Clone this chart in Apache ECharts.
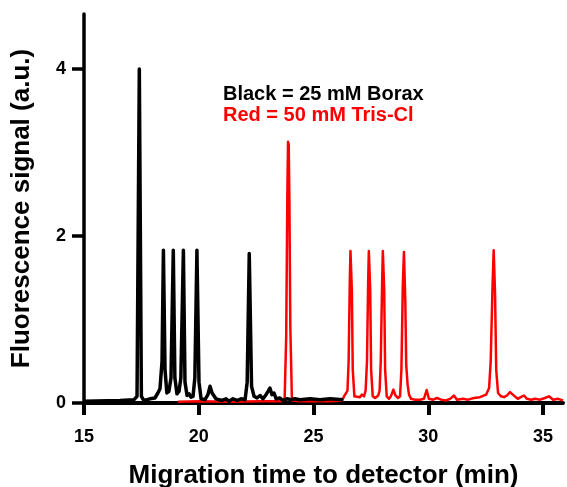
<!DOCTYPE html>
<html>
<head>
<meta charset="utf-8">
<script src="https://cdn.jsdelivr.net/npm/echarts@6/dist/echarts.min.js"></script>
<style>
  html, body { margin: 0; padding: 0; background: #fff; }
  #chart { width: 567px; height: 487px; }
</style>
</head>
<body>
<div id="chart"></div>
<script>
// Electropherogram: fluorescence vs. migration time for two run buffers

const xTicks = [15, 20, 25, 30, 35];
const yTicks = [0, 2, 4];

// 25 mM Borax run
const blackTime = [
  15.00, 16.57, 17.18, 17.31, 17.41, 17.50, 17.61, 17.88, 18.09, 18.22,
  18.31, 18.40, 18.46, 18.53, 18.61, 18.70, 18.79, 18.89, 18.96, 19.05,
  19.14, 19.22, 19.33, 19.40, 19.49, 19.58, 19.66, 19.75, 19.83, 19.92,
  20.01, 20.10, 20.27, 20.40, 20.49, 20.58, 20.66, 20.75, 21.01, 21.19,
  21.32, 21.49, 21.67, 21.84, 22.02, 22.11, 22.20, 22.30, 22.41, 22.54,
  22.67, 22.80, 22.93, 23.02, 23.10, 23.19, 23.28, 23.37, 23.54, 23.67,
  23.85, 24.02, 24.19, 24.41, 24.85, 25.28, 25.72, 26.29
];
const blackSignal = [
  0.02, 0.03, 0.04, 0.08, 4.00, 0.08, 0.03, 0.05, 0.06, 0.12,
  0.17, 0.50, 1.83, 0.40, 0.12, 0.14, 0.30, 1.83, 0.30, 0.11,
  0.14, 0.30, 1.83, 0.25, 0.09, 0.11, 0.07, 0.08, 0.30, 1.83,
  0.25, 0.05, 0.04, 0.10, 0.20, 0.12, 0.14, 0.05, 0.03, 0.05,
  0.02, 0.05, 0.03, 0.05, 0.04, 0.25, 1.79, 0.20, 0.08, 0.06,
  0.09, 0.05, 0.10, 0.14, 0.18, 0.10, 0.12, 0.05, 0.06, 0.03,
  0.05, 0.04, 0.05, 0.04, 0.05, 0.04, 0.05, 0.04
];

// 50 mM Tris-Cl run
const redTime = [
  19.10, 20.05, 21.36, 22.67, 23.54, 23.74, 23.81, 23.86, 23.89, 23.92,
  23.95, 23.99, 24.06, 24.41, 25.07, 25.72, 26.25, 26.33, 26.42, 26.48,
  26.53, 26.58, 26.61, 26.64, 26.67, 26.71, 26.78, 26.85, 27.02, 27.11,
  27.20, 27.27, 27.33, 27.38, 27.41, 27.44, 27.47, 27.51, 27.58, 27.68,
  27.82, 27.88, 27.93, 27.99, 28.02, 28.05, 28.08, 28.12, 28.19, 28.29,
  28.37, 28.48, 28.57, 28.68, 28.77, 28.83, 28.89, 28.94, 28.97, 29.00,
  29.04, 29.10, 29.16, 29.25, 29.42, 29.64, 29.81, 29.93, 30.03, 30.21,
  30.38, 30.56, 30.77, 30.95, 31.12, 31.25, 31.51, 31.73, 31.99, 32.25,
  32.52, 32.65, 32.72, 32.80, 32.85, 32.88, 32.91, 32.96, 33.04, 33.17,
  33.30, 33.43, 33.56, 33.64, 33.77, 33.90, 34.03, 34.17, 34.30, 34.48,
  34.65, 34.87, 35.08, 35.26, 35.44, 35.66, 35.87
];
const redSignal = [
  0.015, 0.02, 0.015, 0.02, 0.02, 0.03, 0.80, 2.50, 3.13, 3.10,
  2.40, 0.90, 0.03, 0.02, 0.02, 0.02, 0.03, 0.08, 0.12, 0.15,
  0.50, 1.45, 1.82, 1.80, 1.35, 0.40, 0.08, 0.07, 0.07, 0.10,
  0.08, 0.15, 0.50, 1.45, 1.82, 1.80, 1.35, 0.40, 0.08, 0.06,
  0.09, 0.15, 0.50, 1.45, 1.82, 1.80, 1.35, 0.40, 0.08, 0.05,
  0.08, 0.16, 0.09, 0.06, 0.08, 0.40, 1.40, 1.81, 1.79, 1.20,
  0.45, 0.22, 0.10, 0.05, 0.04, 0.04, 0.05, 0.155, 0.05, 0.04,
  0.06, 0.04, 0.03, 0.05, 0.09, 0.04, 0.05, 0.04, 0.06, 0.07,
  0.10, 0.18, 0.50, 1.40, 1.83, 1.81, 1.30, 0.40, 0.12, 0.08,
  0.07, 0.09, 0.13, 0.14, 0.08, 0.05, 0.07, 0.09, 0.05, 0.04,
  0.05, 0.04, 0.06, 0.08, 0.04, 0.05, 0.03
];

const FONT = '"Liberation Sans", Arial, Helvetica, sans-serif';

const chart = echarts.init(document.getElementById('chart'), null, { renderer: 'canvas' });

chart.setOption({
  animation: false,
  backgroundColor: '#ffffff',
  grid: { left: 84, right: 4, top: 14, bottom: 84, containLabel: false, outerBoundsMode: 'none' },
  xAxis: {
    type: 'value',
    min: 15,
    max: 35.87,
    name: 'Migration time to detector (min)',
    nameLocation: 'middle',
    nameGap: 60,
    nameTextStyle: { fontFamily: FONT, fontWeight: 'bold', fontSize: 26, color: '#000' },
    axisLine: { show: true, onZero: false, lineStyle: { color: '#000', width: 4 } },
    axisTick: { show: true, inside: false, length: 12, lineStyle: { color: '#000', width: 4 }, customValues: xTicks },
    axisLabel: { fontFamily: FONT, fontWeight: 'bold', fontSize: 18, color: '#000', margin: 25, customValues: xTicks },
    splitLine: { show: false }
  },
  yAxis: {
    type: 'value',
    min: 0,
    max: 4.66,
    name: 'Fluorescence signal (a.u.)',
    nameLocation: 'middle',
    nameGap: 49,
    nameTextStyle: { fontFamily: FONT, fontWeight: 'bold', fontSize: 26, color: '#000' },
    axisLine: { show: true, lineStyle: { color: '#000', width: 3.5 } },
    axisTick: { show: true, inside: false, length: 12, lineStyle: { color: '#000', width: 3.5 }, customValues: yTicks },
    axisLabel: { fontFamily: FONT, fontWeight: 'bold', fontSize: 18, color: '#000', margin: 18, customValues: yTicks },
    splitLine: { show: false }
  },
  graphic: [
    {
      type: 'text', left: 223, top: 84,
      style: { text: 'Black = 25 mM Borax', fill: '#000', font: 'bold 20px ' + FONT }
    },
    {
      type: 'text', left: 223, top: 105,
      style: { text: 'Red = 50 mM Tris-Cl', fill: '#ff0000', font: 'bold 20px ' + FONT }
    }
  ],
  series: [
    {
      name: 'Red = 50 mM Tris-Cl',
      type: 'line',
      data: redTime.map((t, i) => [t, redSignal[i]]),
      showSymbol: false,
      smooth: false,
      lineStyle: { color: '#ff0000', width: 2.5, join: 'round' },
      z: 3
    },
    {
      name: 'Black = 25 mM Borax',
      type: 'line',
      data: blackTime.map((t, i) => [t, blackSignal[i]]),
      showSymbol: false,
      smooth: false,
      lineStyle: { color: '#000', width: 3.5, join: 'round' },
      z: 4
    }
  ]
});
</script>
</body>
</html>
